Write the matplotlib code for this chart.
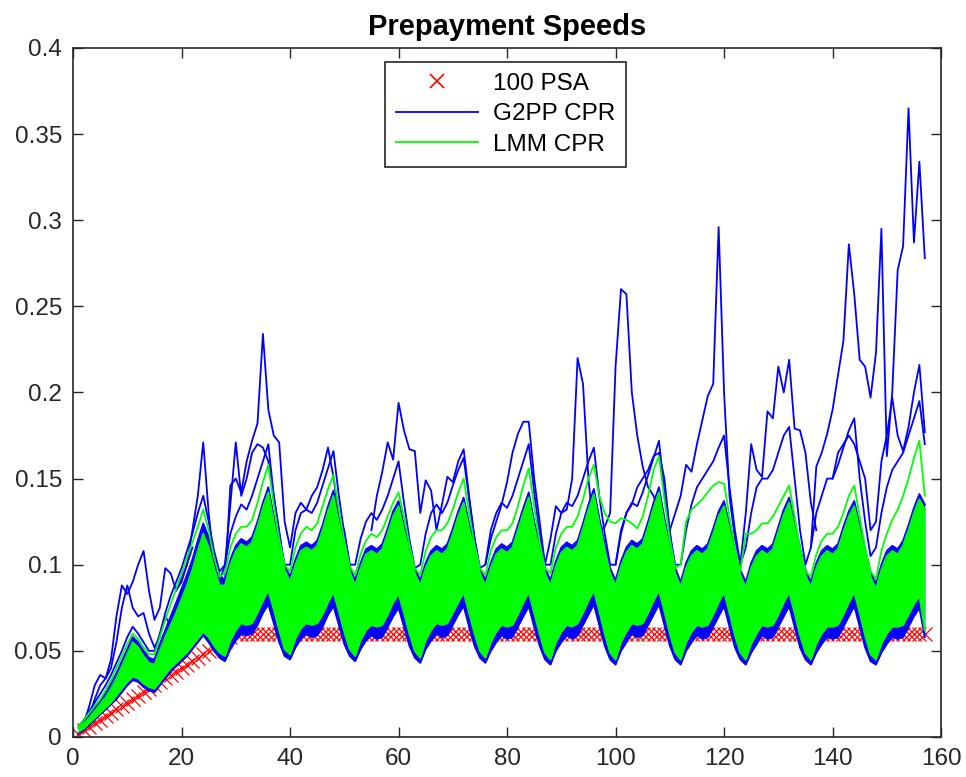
import numpy as np
import matplotlib
matplotlib.use("Agg")
import matplotlib.pyplot as plt
from matplotlib.lines import Line2D

plt.rcParams['font.family'] = ['Liberation Sans', 'DejaVu Sans']

# ---------------- data ----------------
months = list(range(1, 158))

# 100 PSA: ramp to 6% CPR at month 30, then flat
psa_cpr = [0.002, 0.004, 0.006, 0.008, 0.010, 0.012, 0.014, 0.016, 0.018, 0.020,
           0.022, 0.024, 0.026, 0.028, 0.030, 0.032, 0.034, 0.036, 0.038, 0.040,
           0.042, 0.044, 0.046, 0.048, 0.050, 0.052, 0.054, 0.056, 0.058, 0.060] + [0.060] * 127

# ---- LMM (green) band: lower edge, dense upper edge, highest path ----
lmm_lo_early = [0.003, 0.005, 0.008, 0.011, 0.014, 0.017, 0.020, 0.024, 0.028, 0.032, 0.035, 0.034, 0.031, 0.029,
                0.028, 0.032, 0.036, 0.040, 0.043, 0.046, 0.049, 0.053, 0.057, 0.061, 0.058, 0.053, 0.049]
lmm_lo_cycles = [
    [0.047, 0.056, 0.062, 0.066, 0.065, 0.066, 0.072, 0.079, 0.085, 0.074, 0.062, 0.051],  # m 28-39
    [0.048, 0.057, 0.063, 0.066, 0.065, 0.066, 0.071, 0.078, 0.084, 0.073, 0.061, 0.051],  # m 40-51
    [0.047, 0.056, 0.062, 0.065, 0.064, 0.065, 0.071, 0.078, 0.083, 0.072, 0.060, 0.050],  # m 52-63
    [0.046, 0.056, 0.062, 0.066, 0.065, 0.066, 0.072, 0.078, 0.084, 0.072, 0.060, 0.050],  # m 64-75
    [0.046, 0.055, 0.061, 0.065, 0.064, 0.065, 0.071, 0.078, 0.084, 0.072, 0.060, 0.049],  # m 76-87
    [0.045, 0.055, 0.061, 0.065, 0.064, 0.066, 0.072, 0.079, 0.085, 0.073, 0.060, 0.049],  # m 88-99
    [0.045, 0.055, 0.061, 0.066, 0.065, 0.066, 0.072, 0.079, 0.085, 0.073, 0.060, 0.049],  # m 100-111
    [0.045, 0.055, 0.061, 0.065, 0.064, 0.065, 0.071, 0.078, 0.084, 0.072, 0.059, 0.049],  # m 112-123
    [0.045, 0.054, 0.060, 0.065, 0.064, 0.065, 0.071, 0.078, 0.084, 0.072, 0.059, 0.049],  # m 124-135
    [0.045, 0.054, 0.060, 0.064, 0.064, 0.065, 0.071, 0.078, 0.084, 0.072, 0.059, 0.048],  # m 136-147
    [0.045, 0.054, 0.060, 0.064, 0.064, 0.065, 0.071, 0.077, 0.082, 0.062],                # m 148-157
]
lmm_hi_early = [0.005, 0.008, 0.011, 0.015, 0.019, 0.023, 0.028, 0.034, 0.041, 0.048, 0.055, 0.052, 0.047, 0.043,
                0.042, 0.050, 0.058, 0.065, 0.072, 0.080, 0.088, 0.097, 0.108, 0.118, 0.110, 0.098, 0.088]
lmm_hi_cycles = [
    [0.088, 0.100, 0.108, 0.112, 0.110, 0.113, 0.122, 0.133, 0.142, 0.125, 0.110, 0.097],
    [0.090, 0.100, 0.108, 0.110, 0.108, 0.111, 0.120, 0.131, 0.140, 0.124, 0.110, 0.096],
    [0.088, 0.098, 0.106, 0.108, 0.106, 0.109, 0.118, 0.128, 0.134, 0.120, 0.107, 0.095],
    [0.088, 0.098, 0.105, 0.108, 0.106, 0.109, 0.118, 0.128, 0.136, 0.121, 0.108, 0.095],
    [0.088, 0.098, 0.106, 0.109, 0.107, 0.110, 0.120, 0.130, 0.139, 0.122, 0.108, 0.095],
    [0.088, 0.099, 0.107, 0.110, 0.108, 0.111, 0.121, 0.132, 0.141, 0.124, 0.109, 0.095],
    [0.088, 0.099, 0.107, 0.111, 0.109, 0.112, 0.122, 0.133, 0.142, 0.124, 0.109, 0.095],
    [0.087, 0.098, 0.105, 0.108, 0.106, 0.109, 0.118, 0.128, 0.134, 0.120, 0.106, 0.094],
    [0.087, 0.098, 0.105, 0.108, 0.106, 0.109, 0.119, 0.129, 0.136, 0.121, 0.107, 0.094],
    [0.087, 0.098, 0.105, 0.108, 0.106, 0.109, 0.119, 0.128, 0.134, 0.120, 0.106, 0.093],
    [0.086, 0.097, 0.105, 0.108, 0.106, 0.111, 0.120, 0.130, 0.138, 0.132],
]
lmm_top_early = [0.006, 0.010, 0.014, 0.018, 0.022, 0.027, 0.033, 0.040, 0.047, 0.054, 0.060, 0.057, 0.052, 0.048,
                 0.048, 0.058, 0.068, 0.077, 0.086, 0.095, 0.104, 0.113, 0.122, 0.132, 0.120, 0.104, 0.093]
lmm_top_cycles = [
    [0.095, 0.110, 0.118, 0.122, 0.122, 0.126, 0.136, 0.148, 0.158, 0.135, 0.115, 0.100],
    [0.096, 0.110, 0.118, 0.122, 0.120, 0.124, 0.134, 0.144, 0.152, 0.132, 0.114, 0.099],
    [0.094, 0.106, 0.114, 0.118, 0.116, 0.120, 0.128, 0.136, 0.142, 0.128, 0.112, 0.098],
    [0.094, 0.108, 0.116, 0.120, 0.120, 0.124, 0.132, 0.142, 0.150, 0.130, 0.112, 0.098],
    [0.094, 0.108, 0.116, 0.120, 0.120, 0.124, 0.134, 0.146, 0.156, 0.134, 0.113, 0.098],
    [0.095, 0.110, 0.118, 0.122, 0.122, 0.128, 0.138, 0.150, 0.158, 0.140, 0.130, 0.125],
    [0.124, 0.127, 0.126, 0.124, 0.121, 0.128, 0.140, 0.155, 0.163, 0.138, 0.115, 0.098],
    [0.100, 0.125, 0.132, 0.135, 0.138, 0.142, 0.146, 0.148, 0.147, 0.128, 0.110, 0.096],
    [0.118, 0.118, 0.120, 0.124, 0.124, 0.128, 0.134, 0.140, 0.146, 0.128, 0.110, 0.096],
    [0.093, 0.106, 0.114, 0.118, 0.118, 0.122, 0.130, 0.140, 0.146, 0.128, 0.110, 0.096],
    [0.092, 0.108, 0.118, 0.126, 0.132, 0.140, 0.150, 0.162, 0.172, 0.140],
]

# ---- G2PP (blue) band: lower edge, dense upper edge, upper-tier path ----
g2pp_lo_early = [0.002, 0.004, 0.007, 0.010, 0.013, 0.016, 0.019, 0.022, 0.026, 0.030, 0.033, 0.032, 0.029, 0.027,
                 0.026, 0.030, 0.034, 0.038, 0.041, 0.044, 0.047, 0.051, 0.055, 0.059, 0.055, 0.050, 0.046]
g2pp_lo_cycles = [
    [0.044, 0.051, 0.056, 0.060, 0.059, 0.060, 0.065, 0.072, 0.077, 0.066, 0.055, 0.047],
    [0.045, 0.052, 0.057, 0.060, 0.058, 0.059, 0.064, 0.071, 0.076, 0.065, 0.054, 0.047],
    [0.044, 0.051, 0.056, 0.059, 0.057, 0.058, 0.064, 0.070, 0.075, 0.064, 0.053, 0.046],
    [0.043, 0.051, 0.056, 0.060, 0.058, 0.059, 0.065, 0.071, 0.076, 0.064, 0.053, 0.046],
    [0.043, 0.050, 0.055, 0.059, 0.057, 0.058, 0.064, 0.070, 0.076, 0.064, 0.053, 0.045],
    [0.042, 0.050, 0.055, 0.059, 0.057, 0.059, 0.065, 0.071, 0.077, 0.065, 0.053, 0.045],
    [0.042, 0.050, 0.055, 0.060, 0.058, 0.059, 0.065, 0.071, 0.077, 0.065, 0.053, 0.045],
    [0.042, 0.050, 0.055, 0.059, 0.057, 0.058, 0.064, 0.070, 0.076, 0.064, 0.052, 0.045],
    [0.042, 0.049, 0.054, 0.059, 0.057, 0.058, 0.064, 0.070, 0.076, 0.064, 0.052, 0.045],
    [0.042, 0.049, 0.054, 0.058, 0.057, 0.058, 0.064, 0.070, 0.076, 0.064, 0.052, 0.044],
    [0.042, 0.049, 0.054, 0.058, 0.057, 0.058, 0.064, 0.070, 0.075, 0.058],
]
g2pp_hi_early = [0.006, 0.009, 0.013, 0.017, 0.021, 0.026, 0.031, 0.037, 0.044, 0.051, 0.058, 0.055, 0.050, 0.046,
                 0.045, 0.054, 0.062, 0.070, 0.078, 0.086, 0.094, 0.103, 0.114, 0.124, 0.116, 0.104, 0.094]
g2pp_hi_cycles = [
    [0.091, 0.103, 0.111, 0.115, 0.113, 0.116, 0.125, 0.136, 0.145, 0.128, 0.113, 0.100],
    [0.093, 0.103, 0.111, 0.113, 0.111, 0.114, 0.123, 0.134, 0.143, 0.127, 0.113, 0.099],
    [0.091, 0.101, 0.109, 0.111, 0.109, 0.112, 0.121, 0.131, 0.137, 0.123, 0.110, 0.098],
    [0.091, 0.101, 0.108, 0.111, 0.109, 0.112, 0.121, 0.131, 0.139, 0.124, 0.111, 0.098],
    [0.091, 0.101, 0.109, 0.112, 0.110, 0.113, 0.123, 0.133, 0.142, 0.125, 0.111, 0.098],
    [0.091, 0.102, 0.110, 0.113, 0.111, 0.114, 0.124, 0.135, 0.144, 0.127, 0.112, 0.098],
    [0.091, 0.102, 0.110, 0.114, 0.112, 0.115, 0.125, 0.136, 0.145, 0.127, 0.112, 0.098],
    [0.090, 0.101, 0.108, 0.111, 0.109, 0.112, 0.121, 0.131, 0.137, 0.123, 0.109, 0.097],
    [0.090, 0.101, 0.108, 0.111, 0.109, 0.112, 0.122, 0.132, 0.139, 0.124, 0.110, 0.097],
    [0.090, 0.101, 0.108, 0.111, 0.109, 0.112, 0.122, 0.131, 0.137, 0.123, 0.109, 0.096],
    [0.089, 0.100, 0.108, 0.111, 0.109, 0.114, 0.123, 0.133, 0.141, 0.135],
]
g2pp_tier_early = [0.006, 0.010, 0.015, 0.020, 0.025, 0.030, 0.036, 0.043, 0.050, 0.058, 0.064, 0.060, 0.055, 0.050,
                   0.050, 0.060, 0.072, 0.082, 0.090, 0.098, 0.108, 0.118, 0.130, 0.140, 0.125, 0.108, 0.096]
g2pp_tier_cycles = [
    [0.100, 0.118, 0.128, 0.135, 0.132, 0.140, 0.150, 0.160, 0.170, 0.140, 0.118, 0.100],
    [0.100, 0.120, 0.130, 0.132, 0.130, 0.136, 0.146, 0.156, 0.166, 0.140, 0.118, 0.100],
    [0.100, 0.115, 0.125, 0.130, 0.126, 0.132, 0.140, 0.150, 0.160, 0.136, 0.115, 0.098],
    [0.100, 0.118, 0.130, 0.135, 0.130, 0.136, 0.146, 0.155, 0.162, 0.138, 0.116, 0.098],
    [0.100, 0.120, 0.130, 0.136, 0.133, 0.140, 0.150, 0.160, 0.170, 0.142, 0.118, 0.100],
    [0.100, 0.118, 0.130, 0.136, 0.134, 0.140, 0.150, 0.160, 0.168, 0.140, 0.118, 0.100],
    [0.100, 0.118, 0.130, 0.136, 0.134, 0.142, 0.152, 0.162, 0.172, 0.142, 0.118, 0.100],
    [0.100, 0.120, 0.135, 0.145, 0.150, 0.155, 0.160, 0.168, 0.175, 0.145, 0.120, 0.100],
    [0.110, 0.130, 0.145, 0.150, 0.150, 0.155, 0.165, 0.175, 0.180, 0.150, 0.120, 0.100],
    [0.110, 0.130, 0.140, 0.150, 0.150, 0.158, 0.168, 0.178, 0.185, 0.150, 0.125, 0.105],
    [0.110, 0.130, 0.145, 0.155, 0.160, 0.165, 0.175, 0.185, 0.195, 0.170],
]

# ---- individual G2PP paths that stand out above the band (first month, values) ----
g2pp_path_a_start, g2pp_path_a = 2, [0.008, 0.018, 0.030, 0.036, 0.034, 0.045, 0.070, 0.088, 0.083, 0.090, 0.100,
                                     0.108, 0.085, 0.068, 0.075, 0.098, 0.095, 0.085, 0.092, 0.100, 0.110]
g2pp_path_b_start, g2pp_path_b = 2, [0.006, 0.012, 0.022, 0.030, 0.034, 0.040, 0.055, 0.075, 0.088, 0.075, 0.070,
                                     0.072, 0.060, 0.052, 0.058, 0.070, 0.065, 0.075, 0.085]
g2pp_path_c_start, g2pp_path_c = 19, [0.085, 0.090, 0.100, 0.120, 0.140, 0.171, 0.130, 0.100, 0.090, 0.100, 0.135,
                                      0.171, 0.140, 0.150, 0.165, 0.170, 0.168, 0.160, 0.140, 0.120, 0.095, 0.080]
g2pp_path_d_start, g2pp_path_d = 28, [0.090, 0.146, 0.150, 0.142, 0.160, 0.172, 0.182, 0.234, 0.190, 0.175, 0.171,
                                      0.125, 0.110, 0.130, 0.136, 0.132, 0.140, 0.145, 0.155, 0.168, 0.151, 0.128,
                                      0.120, 0.100, 0.085]
g2pp_path_e_start, g2pp_path_e = 55, [0.120, 0.140, 0.154, 0.171, 0.161, 0.194, 0.178, 0.167, 0.166, 0.130, 0.149,
                                      0.143, 0.120, 0.135, 0.151, 0.148, 0.160, 0.167, 0.140, 0.115, 0.095]
g2pp_path_f_start, g2pp_path_f = 76, [0.100, 0.115, 0.125, 0.135, 0.148, 0.165, 0.176, 0.183, 0.183, 0.150, 0.125,
                                      0.100, 0.115, 0.134, 0.130, 0.132, 0.150, 0.220, 0.205, 0.150, 0.118, 0.120,
                                      0.122, 0.130, 0.215, 0.260, 0.257, 0.200, 0.175, 0.157, 0.145, 0.140, 0.130]
g2pp_path_g_start, g2pp_path_g = 100, [0.100, 0.120, 0.130, 0.135, 0.145, 0.150, 0.155, 0.163, 0.165, 0.150, 0.120,
                                       0.095, 0.090]
g2pp_path_h_start, g2pp_path_h = 110, [0.120, 0.130, 0.140, 0.158, 0.154, 0.170, 0.184, 0.198, 0.205, 0.296, 0.200,
                                       0.140, 0.115, 0.100, 0.130, 0.170, 0.155, 0.151, 0.189, 0.185, 0.215, 0.200,
                                       0.219, 0.179, 0.178, 0.165, 0.136, 0.120]
g2pp_path_i_start, g2pp_path_i = 136, [0.110, 0.157, 0.165, 0.176, 0.190, 0.210, 0.230, 0.286, 0.257, 0.219, 0.215,
                                       0.197, 0.223, 0.295, 0.163, 0.200, 0.271, 0.285, 0.365, 0.287, 0.334, 0.278]
g2pp_path_j_start, g2pp_path_j = 140, [0.150, 0.165, 0.170, 0.175, 0.170, 0.160, 0.150, 0.120, 0.125, 0.160, 0.175,
                                       0.197, 0.175, 0.166, 0.180, 0.200, 0.216, 0.177]

x_ticks = [0, 20, 40, 60, 80, 100, 120, 140, 160]
y_ticks = [0, 0.05, 0.1, 0.15, 0.2, 0.25, 0.3, 0.35, 0.4]
y_tick_labels = ['0', '0.05', '0.1', '0.15', '0.2', '0.25', '0.3', '0.35', '0.4']


def join(early, cycles):
    out = list(early)
    for c in cycles:
        out += c
    return np.array(out)


lmm_lo = join(lmm_lo_early, lmm_lo_cycles)
lmm_hi = join(lmm_hi_early, lmm_hi_cycles)
lmm_top = join(lmm_top_early, lmm_top_cycles)
g2pp_lo = join(g2pp_lo_early, g2pp_lo_cycles)
g2pp_hi = join(g2pp_hi_early, g2pp_hi_cycles)
g2pp_tier = join(g2pp_tier_early, g2pp_tier_cycles)
m = np.array(months)

# ---------------- drawing ----------------
fig = plt.figure(figsize=(9.66, 7.77), dpi=100)
ax = fig.add_axes([0.0756, 0.0515, 0.8986, 0.8868])

BLUE = (0, 0, 1)
GREEN = (0, 1, 0)
lw = 1.3

# 100 PSA
ax.plot(m, psa_cpr, linestyle='None', marker='x', color='red', markersize=9.5,
        markeredgewidth=0.9, zorder=1)

# G2PP
ax.fill_between(m, g2pp_lo, g2pp_hi, color=BLUE, lw=0, zorder=2)
ax.plot(m, g2pp_lo, color=BLUE, lw=lw, zorder=2)
ax.plot(m, g2pp_hi, color=BLUE, lw=lw, zorder=2)
ax.plot(m, g2pp_tier, color=BLUE, lw=lw, zorder=2)
for s, p in [(g2pp_path_a_start, g2pp_path_a), (g2pp_path_b_start, g2pp_path_b),
             (g2pp_path_c_start, g2pp_path_c), (g2pp_path_d_start, g2pp_path_d),
             (g2pp_path_e_start, g2pp_path_e), (g2pp_path_f_start, g2pp_path_f),
             (g2pp_path_g_start, g2pp_path_g), (g2pp_path_h_start, g2pp_path_h),
             (g2pp_path_i_start, g2pp_path_i), (g2pp_path_j_start, g2pp_path_j)]:
    ax.plot(np.arange(s, s + len(p)), p, color=BLUE, lw=lw, zorder=2)

# LMM
ax.fill_between(m, lmm_lo, lmm_hi, color=GREEN, lw=0, zorder=3)
ax.plot(m, lmm_lo, color=GREEN, lw=lw, zorder=3)
ax.plot(m, lmm_hi, color=GREEN, lw=lw, zorder=3)
ax.plot(m, lmm_top, color=GREEN, lw=lw, zorder=3)

ax.set_xlim(0, 160)
ax.set_ylim(0, 0.4)
ax.set_xticks(x_ticks)
ax.set_xticklabels([str(t) for t in x_ticks])
ax.set_yticks(y_ticks)
ax.set_yticklabels(y_tick_labels)

axcol = '#262626'
for sp in ax.spines.values():
    sp.set_color(axcol)
    sp.set_linewidth(1.2)
ax.tick_params(direction='in', length=7, width=1.0, top=True, right=True,
               labelsize=17.5, colors=axcol, pad=8)

ax.set_title('Prepayment Speeds', fontsize=21, fontweight='bold', color='black', pad=9)

handles = [Line2D([], [], linestyle='None', marker='x', color='red', markersize=10, markeredgewidth=1.2),
           Line2D([], [], color=BLUE, lw=lw),
           Line2D([], [], color=GREEN, lw=lw)]
leg = ax.legend(handles, ['100 PSA', 'G2PP CPR', 'LMM CPR'], loc='upper center',
                bbox_to_anchor=(0.498, 0.98), borderaxespad=0, fontsize=17.5, fancybox=False,
                edgecolor=axcol, framealpha=1, handlelength=3.4, borderpad=0.45,
                labelspacing=0.35, handletextpad=0.6)
leg.get_frame().set_linewidth(1.2)
leg.set_zorder(10)

fig.savefig('out.png', dpi=100)
